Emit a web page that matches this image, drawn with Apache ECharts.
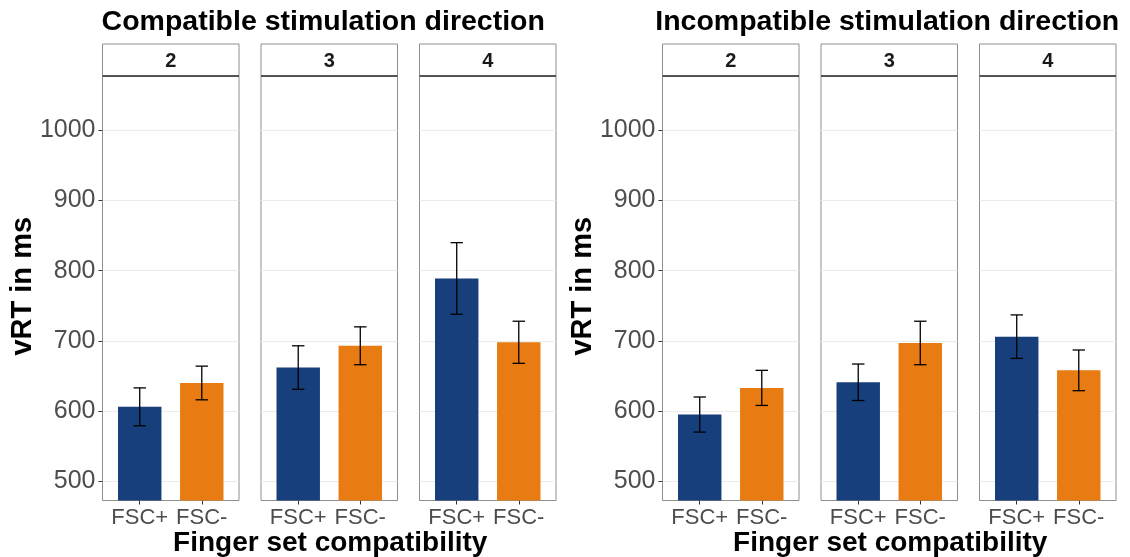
<!DOCTYPE html>
<html><head><meta charset="utf-8">
<script src="https://cdn.jsdelivr.net/npm/echarts@6/dist/echarts.min.js"></script>
<style>html,body{margin:0;padding:0;background:#fff}#c{width:1130px;height:557px}</style>
</head><body><div id="c"></div>
<script>
// ---- data ----
const directions = ['Compatible stimulation direction', 'Incompatible stimulation direction'];
const fingerSets = ['2', '3', '4'];
const compatLevels = ['FSC+', 'FSC-'];
const yTicks = [500, 600, 700, 800, 900, 1000];
const yLimits = [500, 1050];
// per finger set: [FSC+, FSC-]
const compatibleMeans = [[606, 640], [662, 693], [789, 698]];
const compatibleSE = [[27, 24], [31, 27], [51, 30]];
const incompatibleMeans = [[595, 633], [641, 697], [706, 658]];
const incompatibleSE = [[25, 25], [26, 31], [31, 29]];
const yTitle = 'vRT in ms';
const xTitle = 'Finger set compatibility';

// ---- styling / layout ----
const FONT = "'Liberation Sans', Arial, sans-serif";
const barColors = ['#163f7b', '#e87b11'];
const panelLeft = 102.5, panelW = 136.5, panelGap = 22, halfOffset = 560;
const panelTop = 76, panelBottom = 500.5, stripTop = 44;
const expand = (yLimits[1] - yLimits[0]) * 0.05;
const yMin = yLimits[0] - expand, yMax = yLimits[1] + expand;

const meansAll = [compatibleMeans, incompatibleMeans];
const seAll = [compatibleSE, incompatibleSE];

const grids = [], xAxes = [], yAxes = [], series = [], graphics = [];
let idx = 0;
for (let d = 0; d < 2; d++) {
  for (let f = 0; f < 3; f++) {
    const left = panelLeft + d * halfOffset + f * (panelW + panelGap);
    grids.push({left: left, top: panelTop, width: panelW, height: panelBottom - panelTop,
      show: true, borderColor: '#8f8f8f', borderWidth: 1, backgroundColor: '#fff', containLabel: false});
    xAxes.push({type: 'value', gridIndex: idx, min: 0.4, max: 2.6,
      axisLine: {show: false}, splitLine: {show: false},
      axisTick: {show: true, customValues: [1, 2], length: 4, lineStyle: {color: '#333'}},
      axisLabel: {customValues: [1, 2], formatter: v => compatLevels[Math.round(v) - 1],
        color: '#4d4d4d', fontSize: 22, fontFamily: FONT, margin: 6}});
    yAxes.push({type: 'value', gridIndex: idx, min: yMin, max: yMax,
      axisLine: {show: false},
      axisTick: {show: f === 0, customValues: yTicks, length: 4, lineStyle: {color: '#333'}},
      axisLabel: {show: f === 0, customValues: yTicks, formatter: v => String(Math.round(v)),
        color: '#4d4d4d', fontSize: 25, fontFamily: FONT, margin: 7},
      splitLine: {show: true, lineStyle: {color: '#ebebeb', width: 1}}});
    const data = compatLevels.map((c, j) => [j + 1, meansAll[d][f][j], seAll[d][f][j]]);
    series.push({type: 'custom', xAxisIndex: idx, yAxisIndex: idx, data: data, z: 2,
      renderItem: (params, api) => {
        const x = api.value(0), y = api.value(1);
        const p1 = api.coord([x - 0.35, y]);
        const p2 = api.coord([x + 0.35, yMin]);
        return {type: 'rect', shape: {x: p1[0], y: p1[1], width: p2[0] - p1[0], height: p2[1] - p1[1]},
          style: {fill: barColors[x - 1]}};
      }});
    series.push({type: 'custom', xAxisIndex: idx, yAxisIndex: idx, data: data, z: 3,
      renderItem: (params, api) => {
        const x = api.value(0), y = api.value(1), se = api.value(2);
        const top = api.coord([x, y + se]), bot = api.coord([x, y - se]);
        const cl = api.coord([x - 0.1, y])[0], cr = api.coord([x + 0.1, y])[0];
        const st = {stroke: '#000', lineWidth: 1.3};
        return {type: 'group', children: [
          {type: 'line', shape: {x1: top[0], y1: top[1], x2: bot[0], y2: bot[1]}, style: st},
          {type: 'line', shape: {x1: cl, y1: top[1], x2: cr, y2: top[1]}, style: st},
          {type: 'line', shape: {x1: cl, y1: bot[1], x2: cr, y2: bot[1]}, style: st}
        ]};
      }});
    // strip
    graphics.push({type: 'rect', shape: {x: left, y: stripTop, width: panelW, height: panelTop - stripTop},
      style: {fill: '#fff', stroke: '#8f8f8f', lineWidth: 1}});
    graphics.push({type: 'line', shape: {x1: left, y1: panelTop, x2: left + panelW, y2: panelTop},
      style: {stroke: '#333', lineWidth: 1.3}, z: 10});
    graphics.push({type: 'text', x: left + panelW / 2, y: (stripTop + panelTop) / 2 + 1,
      style: {text: fingerSets[f], fill: '#1a1a1a', font: 'bold 20px ' + FONT, textAlign: 'center', textVerticalAlign: 'middle'}});
    idx++;
  }
  const halfCenter = panelLeft + d * halfOffset + (3 * panelW + 2 * panelGap) / 2;
  graphics.push({type: 'text', x: halfCenter - 6 + d * 4, y: 22,
    style: {text: directions[d], fill: '#000', font: 'bold 28.5px ' + FONT, textAlign: 'center', textVerticalAlign: 'middle'}});
  graphics.push({type: 'text', x: halfCenter + 1, y: 543,
    style: {text: xTitle, fill: '#000', font: 'bold 28px ' + FONT, textAlign: 'center', textVerticalAlign: 'middle'}});
  graphics.push({type: 'text', x: 23 + d * halfOffset, y: (panelTop + panelBottom) / 2 - 2, rotation: Math.PI / 2,
    style: {text: yTitle, fill: '#000', font: 'bold 29px ' + FONT, textAlign: 'center', textVerticalAlign: 'middle'}});
}

const chart = echarts.init(document.getElementById('c'), null, {renderer: 'canvas'});
chart.setOption({
  animation: false,
  backgroundColor: '#fff',
  grid: grids, xAxis: xAxes, yAxis: yAxes, series: series,
  graphic: graphics
});
</script>
</body></html>
